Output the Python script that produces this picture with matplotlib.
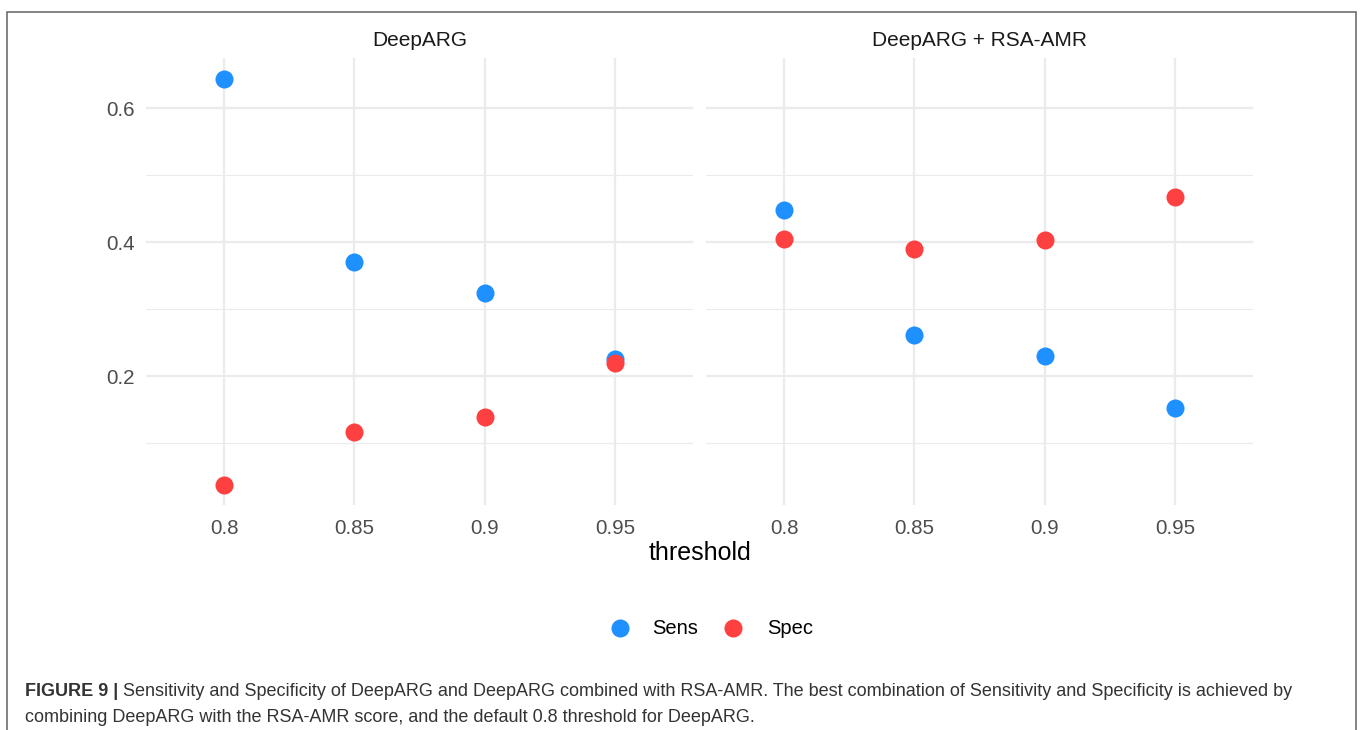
import matplotlib
matplotlib.use("Agg")
import matplotlib.pyplot as plt
from matplotlib.patches import Rectangle

plt.rcParams['font.family'] = ['Liberation Sans', 'DejaVu Sans']

# Data
thresholds = [0.8, 0.85, 0.9, 0.95]
panels = ["DeepARG", "DeepARG + RSA-AMR"]
sens_deeparg = [0.644, 0.370, 0.324, 0.226]
spec_deeparg = [0.037, 0.116, 0.139, 0.220]
sens_combined = [0.448, 0.262, 0.230, 0.152]
spec_combined = [0.405, 0.390, 0.403, 0.468]
series_names = ["Sens", "Spec"]
series_colors = ["#1E90FF", "#FF4040"]
y_ticks = [0.2, 0.4, 0.6]
y_minor = [0.1, 0.3, 0.5]
x_tick_labels = ["0.8", "0.85", "0.9", "0.95"]
caption_bold = "FIGURE 9 |"
caption_rest = (" Sensitivity and Specificity of DeepARG and DeepARG combined with RSA-AMR. "
                "The best combination of Sensitivity and Specificity is achieved by")
caption_line2 = "combining DeepARG with the RSA-AMR score, and the default 0.8 threshold for DeepARG."

W, H = 1360, 730
fig = plt.figure(figsize=(W / 100, H / 100), dpi=100)

def px_axes(x0, y0, x1, y1):
    return fig.add_axes([x0 / W, 1 - y1 / H, (x1 - x0) / W, (y1 - y0) / H])

# outer frame
fig.patches.append(Rectangle((7 / W, -0.05), (1356 - 7) / W, 1 - 12 / H + 0.05,
                             transform=fig.transFigure, fill=False,
                             edgecolor="#6E6E6E", linewidth=1.2))

data = [(sens_deeparg, spec_deeparg), (sens_combined, spec_combined)]
panel_px = [(146, 693), (706, 1253)]
grid_col = "#EBEBEB"
for i, (name, (sens, spec), (x0, x1)) in enumerate(zip(panels, data, panel_px)):
    ax = px_axes(x0, 58, x1, 505)
    ax.set_xlim(0.77, 0.98)
    ax.set_ylim(0.0075, 0.675)
    for s in ax.spines.values():
        s.set_visible(False)
    for yv in y_ticks:
        ax.axhline(yv, color=grid_col, lw=1.6, zorder=0)
    for yv in y_minor:
        ax.axhline(yv, color=grid_col, lw=0.8, zorder=0)
    for xv in thresholds:
        ax.axvline(xv, color=grid_col, lw=1.6, zorder=0)
    ax.set_xticks(thresholds)
    ax.set_xticklabels(x_tick_labels)
    ax.set_yticks(y_ticks)
    ax.set_yticklabels([str(v) for v in y_ticks] if i == 0 else [])
    ax.tick_params(length=0, labelsize=14.8, colors="#4D4D4D")
    ax.tick_params(axis='y', pad=8)
    ax.tick_params(axis='x', pad=10)
    for vals, col in zip((sens, spec), series_colors):
        ax.plot(thresholds, vals, "o", color=col, markersize=13, markeredgewidth=0,
                zorder=3, clip_on=False)
    ax.set_title(name, fontsize=15, color="#1A1A1A", pad=9)

fig.text(700 / W, 1 - 553 / H, "threshold", ha="center", va="center", fontsize=18, color="black")

# legend
leg_y = 1 - 628 / H
for xc, col, lab, xt in [(620, series_colors[0], series_names[0], 652),
                         (733, series_colors[1], series_names[1], 767)]:
    fig.lines.append(plt.Line2D([xc / W], [leg_y], marker="o", color=col, markersize=13,
                                markeredgewidth=0, transform=fig.transFigure))
    fig.text(xt / W, leg_y, lab, ha="left", va="center", fontsize=14.5, color="black")

# caption
cap_size = 13
t = fig.text(25 / W, 1 - 691 / H, caption_bold, ha="left", va="center", fontsize=cap_size,
             fontweight="bold", color="#333333")
fig.canvas.draw()
bb = t.get_window_extent()
fig.text(bb.x1 / W, 1 - 691 / H, caption_rest, ha="left", va="center", fontsize=cap_size,
         color="#333333")
fig.text(25 / W, 1 - 717 / H, caption_line2, ha="left", va="center", fontsize=cap_size,
         color="#333333")

fig.savefig("out.png", dpi=100, facecolor="white")
